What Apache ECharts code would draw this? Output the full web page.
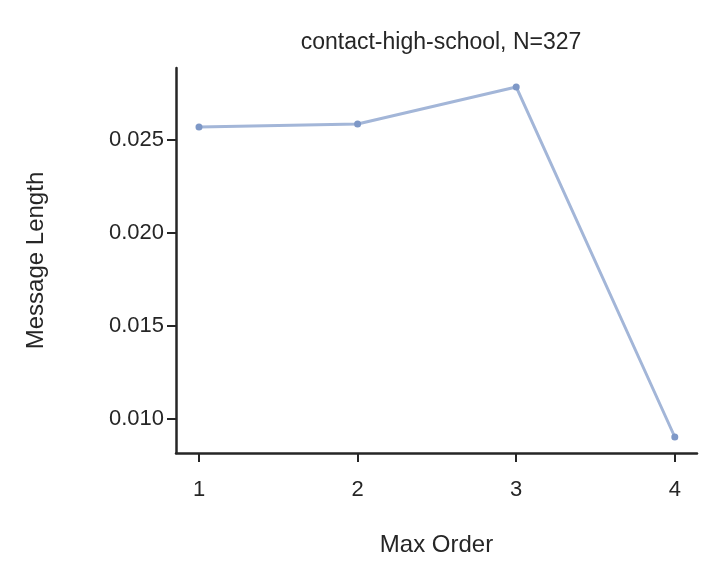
<!DOCTYPE html>
<html><head><meta charset="utf-8">
<script src="https://cdn.jsdelivr.net/npm/echarts@6/dist/echarts.min.js"></script>
<style>body{margin:0;background:#fff}#c{width:723px;height:582px}</style>
</head><body><div id="c"></div>
<script>
// Data
const maxOrder = [1, 2, 3, 4];
const messageLength = [0.0257, 0.02586, 0.02785, 0.00903];
const xTicks = [1, 2, 3, 4];
const yTicks = [0.010, 0.015, 0.020, 0.025];

const font = 'Liberation Sans';
const chart = echarts.init(document.getElementById('c'));
chart.setOption({
    animation: false,
    title: {
        text: 'contact-high-school, N=327', left: 436, top: 26, textAlign: 'center',
        textStyle: { fontFamily: font, fontSize: 23, fontWeight: 'normal', color: '#262626' }
    },
    grid: { left: 176, right: 26, top: 68, bottom: 129 },
    xAxis: {
        type: 'value', min: 0.855, max: 4.14,
        name: 'Max Order', nameLocation: 'middle', nameGap: 80,
        nameTextStyle: { fontFamily: font, fontSize: 24, color: '#262626' },
        axisLine: { lineStyle: { color: '#262626', width: 2.5 } },
        axisTick: { customValues: xTicks, length: 9, lineStyle: { color: '#262626', width: 2 } },
        axisLabel: { customValues: xTicks, fontFamily: font, fontSize: 22, color: '#262626', margin: 26 },
        splitLine: { show: false }
    },
    yAxis: {
        type: 'value', min: 0.00817, max: 0.02887,
        name: 'Message Length', nameLocation: 'middle', nameGap: 128,
        nameTextStyle: { fontFamily: font, fontSize: 24, color: '#262626' },
        axisLine: { show: true, lineStyle: { color: '#262626', width: 2.5 } },
        axisTick: { show: true, customValues: yTicks, length: 9, lineStyle: { color: '#262626', width: 2 } },
        axisLabel: { customValues: yTicks, fontFamily: font, fontSize: 22, color: '#262626', margin: 12,
            formatter: v => v.toFixed(3) },
        splitLine: { show: false }
    },
    series: [{
        type: 'line',
        data: maxOrder.map((x, i) => [x, messageLength[i]]),
        symbol: 'circle', symbolSize: 7,
        lineStyle: { color: '#a3b6d8', width: 3 },
        itemStyle: { color: '#7e98c7' }
    }]
});
</script></body></html>
